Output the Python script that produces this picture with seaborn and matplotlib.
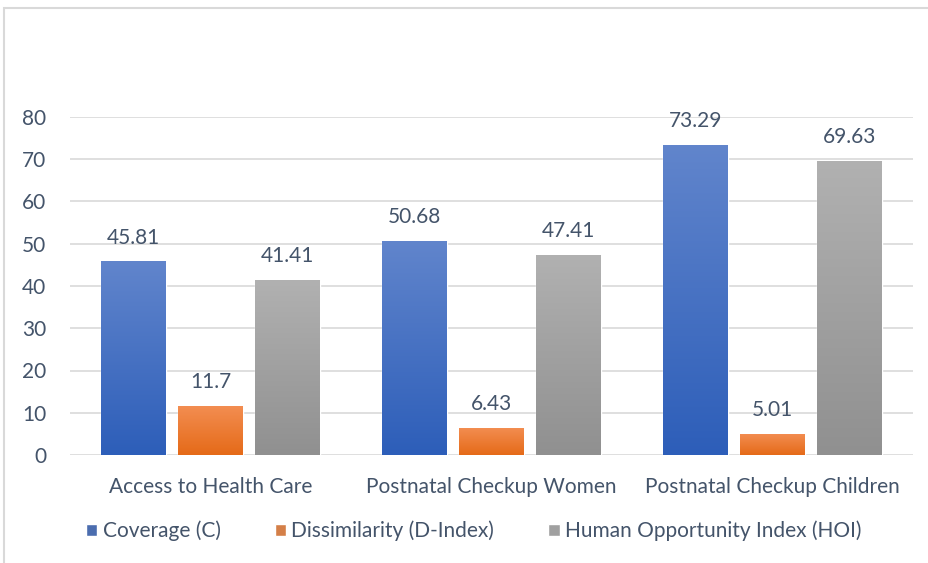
import numpy as np
import pandas as pd
import seaborn as sns
from matplotlib import pyplot as plt
from matplotlib.colors import LinearSegmentedColormap
from matplotlib.patches import Rectangle

categories = ["Access to Health Care", "Postnatal Checkup Women", "Postnatal Checkup Children"]
series = ["Coverage (C)", "Dissimilarity (D-Index)", "Human Opportunity Index (HOI)"]
coverage = [45.81, 50.68, 73.29]
dissimilarity = [11.7, 6.43, 5.01]
hoi = [41.41, 47.41, 69.63]

# top / bottom colours of the gradient fill
gradients = {
    series[0]: ("#6185CC", "#2D5EB9"),
    series[1]: ("#F38E52", "#E56A18"),
    series[2]: ("#B1B1B1", "#909090"),
}
solid = ["#3A68C0", "#EC7A30", "#A0A0A0"]

plot_data = pd.DataFrame({
    "label": categories * 3,
    "data": coverage + dissimilarity + hoi,
    "categories": [s for s in series for _ in categories],
})

text_color = "#44546A"
grid_color = "#D9D9D9"
fs = 15

sns.set_style("white")
plt.rcParams["font.family"] = ["Lato", "DejaVu Sans"]

fig = plt.figure(figsize=(9.29, 5.63), dpi=100)
ax = fig.add_axes([70 / 929, 1 - 455 / 563, 843 / 929, 338 / 563])
sns.barplot(data=plot_data, x="label", y="data", hue="categories", palette=solid,
            width=0.822, gap=0.168, ax=ax, legend=True, zorder=3)

ax.set_ylim(0, 80)
ax.set_yticks(range(0, 81, 10))
ax.yaxis.grid(True, color=grid_color, linewidth=1.2, zorder=0)
ax.set_axisbelow(True)
sns.despine(ax=ax, top=True, right=True, left=True, bottom=True)
ax.tick_params(axis="y", length=0, pad=17, labelsize=fs, labelcolor=text_color)
ax.tick_params(axis="x", length=0, pad=16, labelsize=fs, labelcolor=text_color)
ax.set_xlabel("")
ax.set_ylabel("")

# gradient fill clipped to each bar
for container, name in zip(ax.containers, series):
    cmap = LinearSegmentedColormap.from_list(name, [gradients[name][1], gradients[name][0]])
    for patch in container.patches:
        x0, y0 = patch.get_x(), patch.get_y()
        w, h = patch.get_width(), patch.get_height()
        grad = np.linspace(0, 1, 256).reshape(-1, 1)
        im = ax.imshow(grad, cmap=cmap, aspect="auto", origin="lower",
                       extent=[x0, x0 + w, y0, y0 + h], zorder=4)
        im.set_clip_path(patch)
    ax.bar_label(container, labels=[f"{v:g}" for v in container.datavalues],
                 padding=10, fontsize=fs, color=text_color)

ax.set_xlim(-0.5, 2.5)
ax.set_ylim(0, 80)

handles, labels = ax.get_legend_handles_labels()
ax.legend(handles, labels, loc="center", bbox_to_anchor=(0.51, 1 - 531 / 563),
          bbox_transform=fig.transFigure, ncol=3, frameon=False, fontsize=fs,
          labelcolor=text_color, handlelength=0.55, handleheight=0.55,
          handletextpad=0.25, columnspacing=2.6)

fig.patches.append(Rectangle((4 / 929, -0.1), 1.2, 1 - 8 / 563 + 0.1, transform=fig.transFigure,
                             fill=False, edgecolor=grid_color, linewidth=1.5))

fig.savefig("out.png", dpi=100)
